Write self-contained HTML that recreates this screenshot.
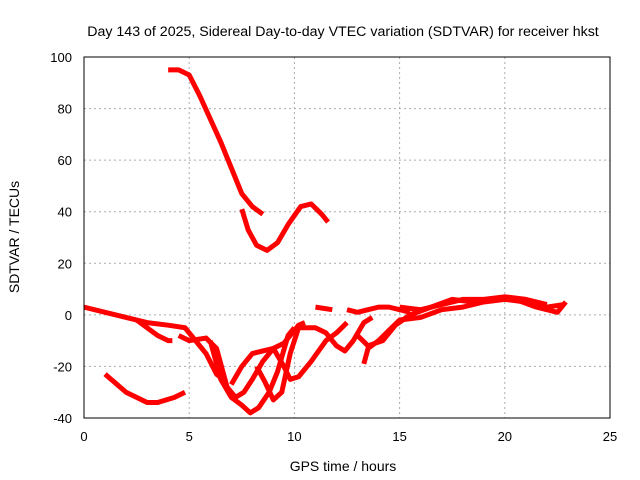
<!DOCTYPE html>
<html><head><meta charset="utf-8"><style>
body{margin:0;background:#fff}
svg{display:block;font-family:"Liberation Sans",sans-serif;font-size:13px}
</style></head><body>
<svg id="chart" width="640" height="480">
<text x="343" y="36" text-anchor="middle" style="font-size:14.2px">Day 143 of 2025, Sidereal Day-to-day VTEC variation (SDTVAR) for receiver hkst</text>
<text transform="translate(19,237) rotate(-90)" text-anchor="middle" style="font-size:14px">SDTVAR / TECUs</text>
<text x="343" y="471" text-anchor="middle" style="font-size:14px">GPS time / hours</text>
<g id="grid"></g><g id="series"></g>
<rect x="84" y="57" width="526" height="361" fill="none" stroke="#000"/>
</svg>
<script>
const xTicks=[0,5,10,15,20,25];
const yTicks=[-40,-20,0,20,40,60,80,100];
const sA=[[4.0,95],[4.5,95],[5,93],[5.5,85],[6,76],[6.5,67],[7,57],[7.5,47],[8,42],[8.5,39]];
const sB=[[7.5,41],[7.8,33],[8.2,27],[8.7,25],[9.2,28],[9.7,35],[10.3,42],[10.8,43],[11.3,39],[11.6,36]];
const sC=[[1,-23],[2,-30],[3,-34],[3.5,-34],[4.3,-32],[4.8,-30]];
const sD=[[0,3],[1,1],[2,-1],[3,-3],[4,-4],[4.8,-5],[5.3,-10],[5.8,-15],[6.3,-23],[6.6,-25]];
const sE=[[2.5,-2],[3,-5],[3.5,-8],[4,-10],[4.2,-10]];
const sF=[[4.5,-8],[5,-10],[5.8,-9],[6.3,-13],[6.8,-28],[7.2,-32],[7.6,-30],[8,-25],[8.5,-18],[9,-13],[9.5,-11],[10.2,-4],[10.5,-3]];
const sG=[[6,-10],[6.5,-25],[7,-32],[7.5,-35],[7.9,-38],[8.3,-36],[8.8,-30],[9.2,-22],[9.7,-8],[10,-5]];
const sH=[[7,-27],[7.5,-20],[8,-15],[8.5,-14],[9,-13],[9.5,-20],[9.8,-25],[10.2,-24],[10.8,-18],[11.5,-10],[12,-7],[12.5,-3]];
const sI=[[8.2,-20],[8.6,-26],[9,-33],[9.4,-30],[9.8,-15],[10.2,-5],[11,-5],[11.5,-7],[12,-12],[12.4,-14],[12.8,-10],[13.3,-3],[13.7,-1]];
const sJ=[[11,3],[11.8,2]];
const sK=[[12.5,2],[13,1],[13.5,2],[14,3],[14.5,3],[15,2],[15.5,1]];
const sL=[[13.3,-19],[13.5,-13],[14,-10],[14.5,-6],[15,-2],[16,-1],[17,2],[18,3],[19,5],[20,6],[21,5],[22,3],[22.8,4]];
const sM=[[13,-8],[13.5,-12],[14.2,-10],[14.8,-4],[15.5,0],[16.5,3],[17.5,6],[18.5,5],[19.5,6],[20.5,6],[21.5,3],[22.5,1],[22.9,5]];
const sN=[[15,3],[16,2],[17,4],[18,6],[19,6],[20,7],[21,6],[22,4]];
const allSeries=[sA,sB,sC,sD,sE,sF,sG,sH,sI,sJ,sK,sL,sM,sN];
const NS="http://www.w3.org/2000/svg";
const X=v=>84+v*526/25, Y=v=>418-(v+40)*361/140;
const grid=document.getElementById('grid'), ser=document.getElementById('series');
function mk(t,a,p){const e=document.createElementNS(NS,t);for(const k in a)e.setAttribute(k,a[k]);p.appendChild(e);return e;}
xTicks.forEach(t=>{
  const g=mk('line',{x1:X(t),x2:X(t),y1:57,y2:418,stroke:'#aaa','stroke-dasharray':'2,3'},grid);
  
  
  const l=mk('text',{x:X(t),y:441,'text-anchor':'middle'},grid);l.textContent=t;
  
  
});
yTicks.forEach(t=>{
  const g=mk('line',{x1:84,x2:610,y1:Y(t),y2:Y(t),stroke:'#aaa','stroke-dasharray':'2,3'},grid);
  
  
  const l=mk('text',{x:72,y:Y(t)+5,'text-anchor':'end'},grid);l.textContent=t;
  
  
});
allSeries.forEach(s=>{
  const p=mk('polyline',{points:s.map(d=>X(d[0])+','+Y(d[1])).join(' '),fill:'none',stroke:'#f00','stroke-width':5,'stroke-linejoin':'round'},ser);
  
  
});
</script>
</body></html>
